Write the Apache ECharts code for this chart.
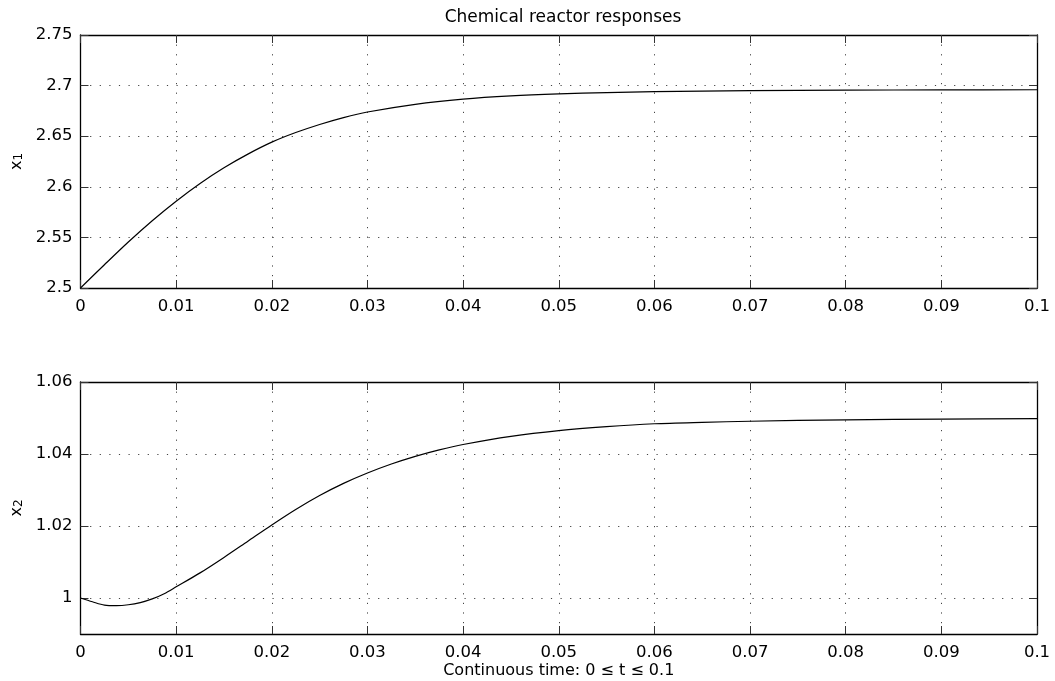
<!DOCTYPE html>
<html>
<head>
<meta charset="utf-8">
<script src="https://cdn.jsdelivr.net/npm/echarts@6/dist/echarts.min.js"></script>
<style>html,body{margin:0;padding:0;background:#fff}#c{width:1055px;height:681px}</style>
</head>
<body>
<div id="c"></div>
<script>
const titleText = 'Chemical reactor responses';
const xLabelText = 'Continuous time: 0 \u2264 t \u2264 0.1';
const yName1 = '{b|x}{s|1}';
const yName2 = '{b|x}{s|2}';

const t1 = [0, 0.0025, 0.005, 0.0075, 0.01, 0.0125, 0.015, 0.0175, 0.02, 0.0225, 0.025, 0.0275, 0.03, 0.035, 0.04, 0.045, 0.05, 0.055, 0.06, 0.065, 0.07, 0.08, 0.09, 0.1];
const x1 = [2.5, 2.523, 2.5455, 2.5665, 2.5858, 2.6033, 2.6188, 2.6323, 2.6441, 2.6536, 2.6616, 2.6684, 2.6739, 2.6815, 2.6866, 2.6898, 2.6918, 2.6931, 2.6940, 2.6946, 2.6950, 2.6955, 2.6958, 2.6959];

const t2 = [0, 0.00125, 0.0025, 0.00375, 0.005, 0.00625, 0.0075, 0.00875, 0.01, 0.0125, 0.015, 0.0175, 0.02, 0.0225, 0.025, 0.0275, 0.03, 0.0325, 0.035, 0.0375, 0.04, 0.045, 0.05, 0.055, 0.06, 0.065, 0.07, 0.08, 0.09, 0.1];
const x2 = [1.0, 0.99895, 0.99802, 0.99788, 0.99812, 0.99873, 0.99975, 1.0012, 1.0031, 1.00698, 1.01128, 1.01578, 1.02028, 1.02458, 1.02846, 1.03183, 1.03471, 1.03721, 1.03934, 1.04114, 1.04264, 1.0449, 1.0465, 1.0476, 1.0484, 1.0488, 1.0491, 1.0495, 1.0497, 1.0498];

const yTicks2 = [1, 1.02, 1.04, 1.06];

const FONT = 'DejaVu Sans';
const grids = [
  {left: 80.5, top: 35, width: 956.5, height: 253},
  {left: 80.5, top: 382, width: 956.5, height: 252}
];
const dotted = {color: '#444', width: 1, type: [1.2, 8.4]};
const tick = {show: true, inside: true, length: 8, lineStyle: {color: '#333', width: 1}};
const axisLine = {show: true, onZero: false, lineStyle: {color: '#000', width: 1.3}};
const lbl = {color: '#000', fontFamily: FONT, fontSize: 16.5};
const fmt = v => String(+v.toFixed(3));
const yNameStyle = {color: '#000', fontFamily: FONT, fontSize: 16,
  rich: {b: {fontFamily: FONT, fontSize: 16, color: '#000', verticalAlign: 'bottom', lineHeight: 22},
         s: {fontFamily: FONT, fontSize: 12, color: '#000', verticalAlign: 'bottom', lineHeight: 16}}};

function xAxes(gi, withName) {
  return [
    {type: 'value', gridIndex: gi, position: 'bottom', min: 0, max: 0.1, interval: 0.01,
     axisLine, axisTick: tick, axisLabel: Object.assign({margin: 10, formatter: fmt}, lbl),
     splitLine: {show: true, lineStyle: dotted},
     name: withName ? xLabelText : '', nameLocation: 'middle', nameGap: 29,
     nameTextStyle: {color: '#000', fontFamily: FONT, fontSize: 16}},
    {type: 'value', gridIndex: gi, position: 'top', min: 0, max: 0.1, interval: 0.01,
     axisLine, axisTick: tick, axisLabel: {show: false}, splitLine: {show: false}}
  ];
}

const option = {
  backgroundColor: '#fff',
  animation: false,
  title: {text: titleText, left: 558, top: 4, textAlign: 'center',
    textStyle: {color: '#000', fontFamily: FONT, fontSize: 17, fontWeight: 'normal'}},
  grid: grids,
  xAxis: [].concat(xAxes(0, false), xAxes(1, true)),
  yAxis: [
    {type: 'value', gridIndex: 0, position: 'left', min: 2.5, max: 2.75, interval: 0.05,
     axisLine, axisTick: tick, axisLabel: Object.assign({margin: 8, formatter: fmt}, lbl),
     splitLine: {show: true, lineStyle: dotted},
     name: yName1, nameLocation: 'middle', nameGap: 54, nameTextStyle: yNameStyle},
    {type: 'value', gridIndex: 0, position: 'right', min: 2.5, max: 2.75, interval: 0.05,
     axisLine, axisTick: tick, axisLabel: {show: false}, splitLine: {show: false}},
    {type: 'value', gridIndex: 1, position: 'left', min: 0.99, max: 1.06,
     axisLine,
     axisTick: Object.assign({customValues: yTicks2}, tick),
     axisLabel: Object.assign({margin: 8, customValues: yTicks2, formatter: fmt}, lbl),
     splitLine: {show: true, lineStyle: dotted},
     name: yName2, nameLocation: 'middle', nameGap: 54, nameTextStyle: yNameStyle},
    {type: 'value', gridIndex: 1, position: 'right', min: 0.99, max: 1.06,
     axisLine, axisTick: Object.assign({customValues: yTicks2}, tick),
     axisLabel: {show: false}, splitLine: {show: false}}
  ],
  series: [
    {type: 'line', xAxisIndex: 0, yAxisIndex: 0, data: t1.map((t, i) => [t, x1[i]]),
     showSymbol: false, smooth: 0.3,
     lineStyle: {color: '#000', width: 1.2}},
    {type: 'line', xAxisIndex: 2, yAxisIndex: 2, data: t2.map((t, i) => [t, x2[i]]),
     showSymbol: false, smooth: 0.3,
     lineStyle: {color: '#000', width: 1.2}}
  ]
};
const chart = echarts.init(document.getElementById('c'), null, {renderer: 'canvas'});
chart.setOption(option);
</script>
</body>
</html>
